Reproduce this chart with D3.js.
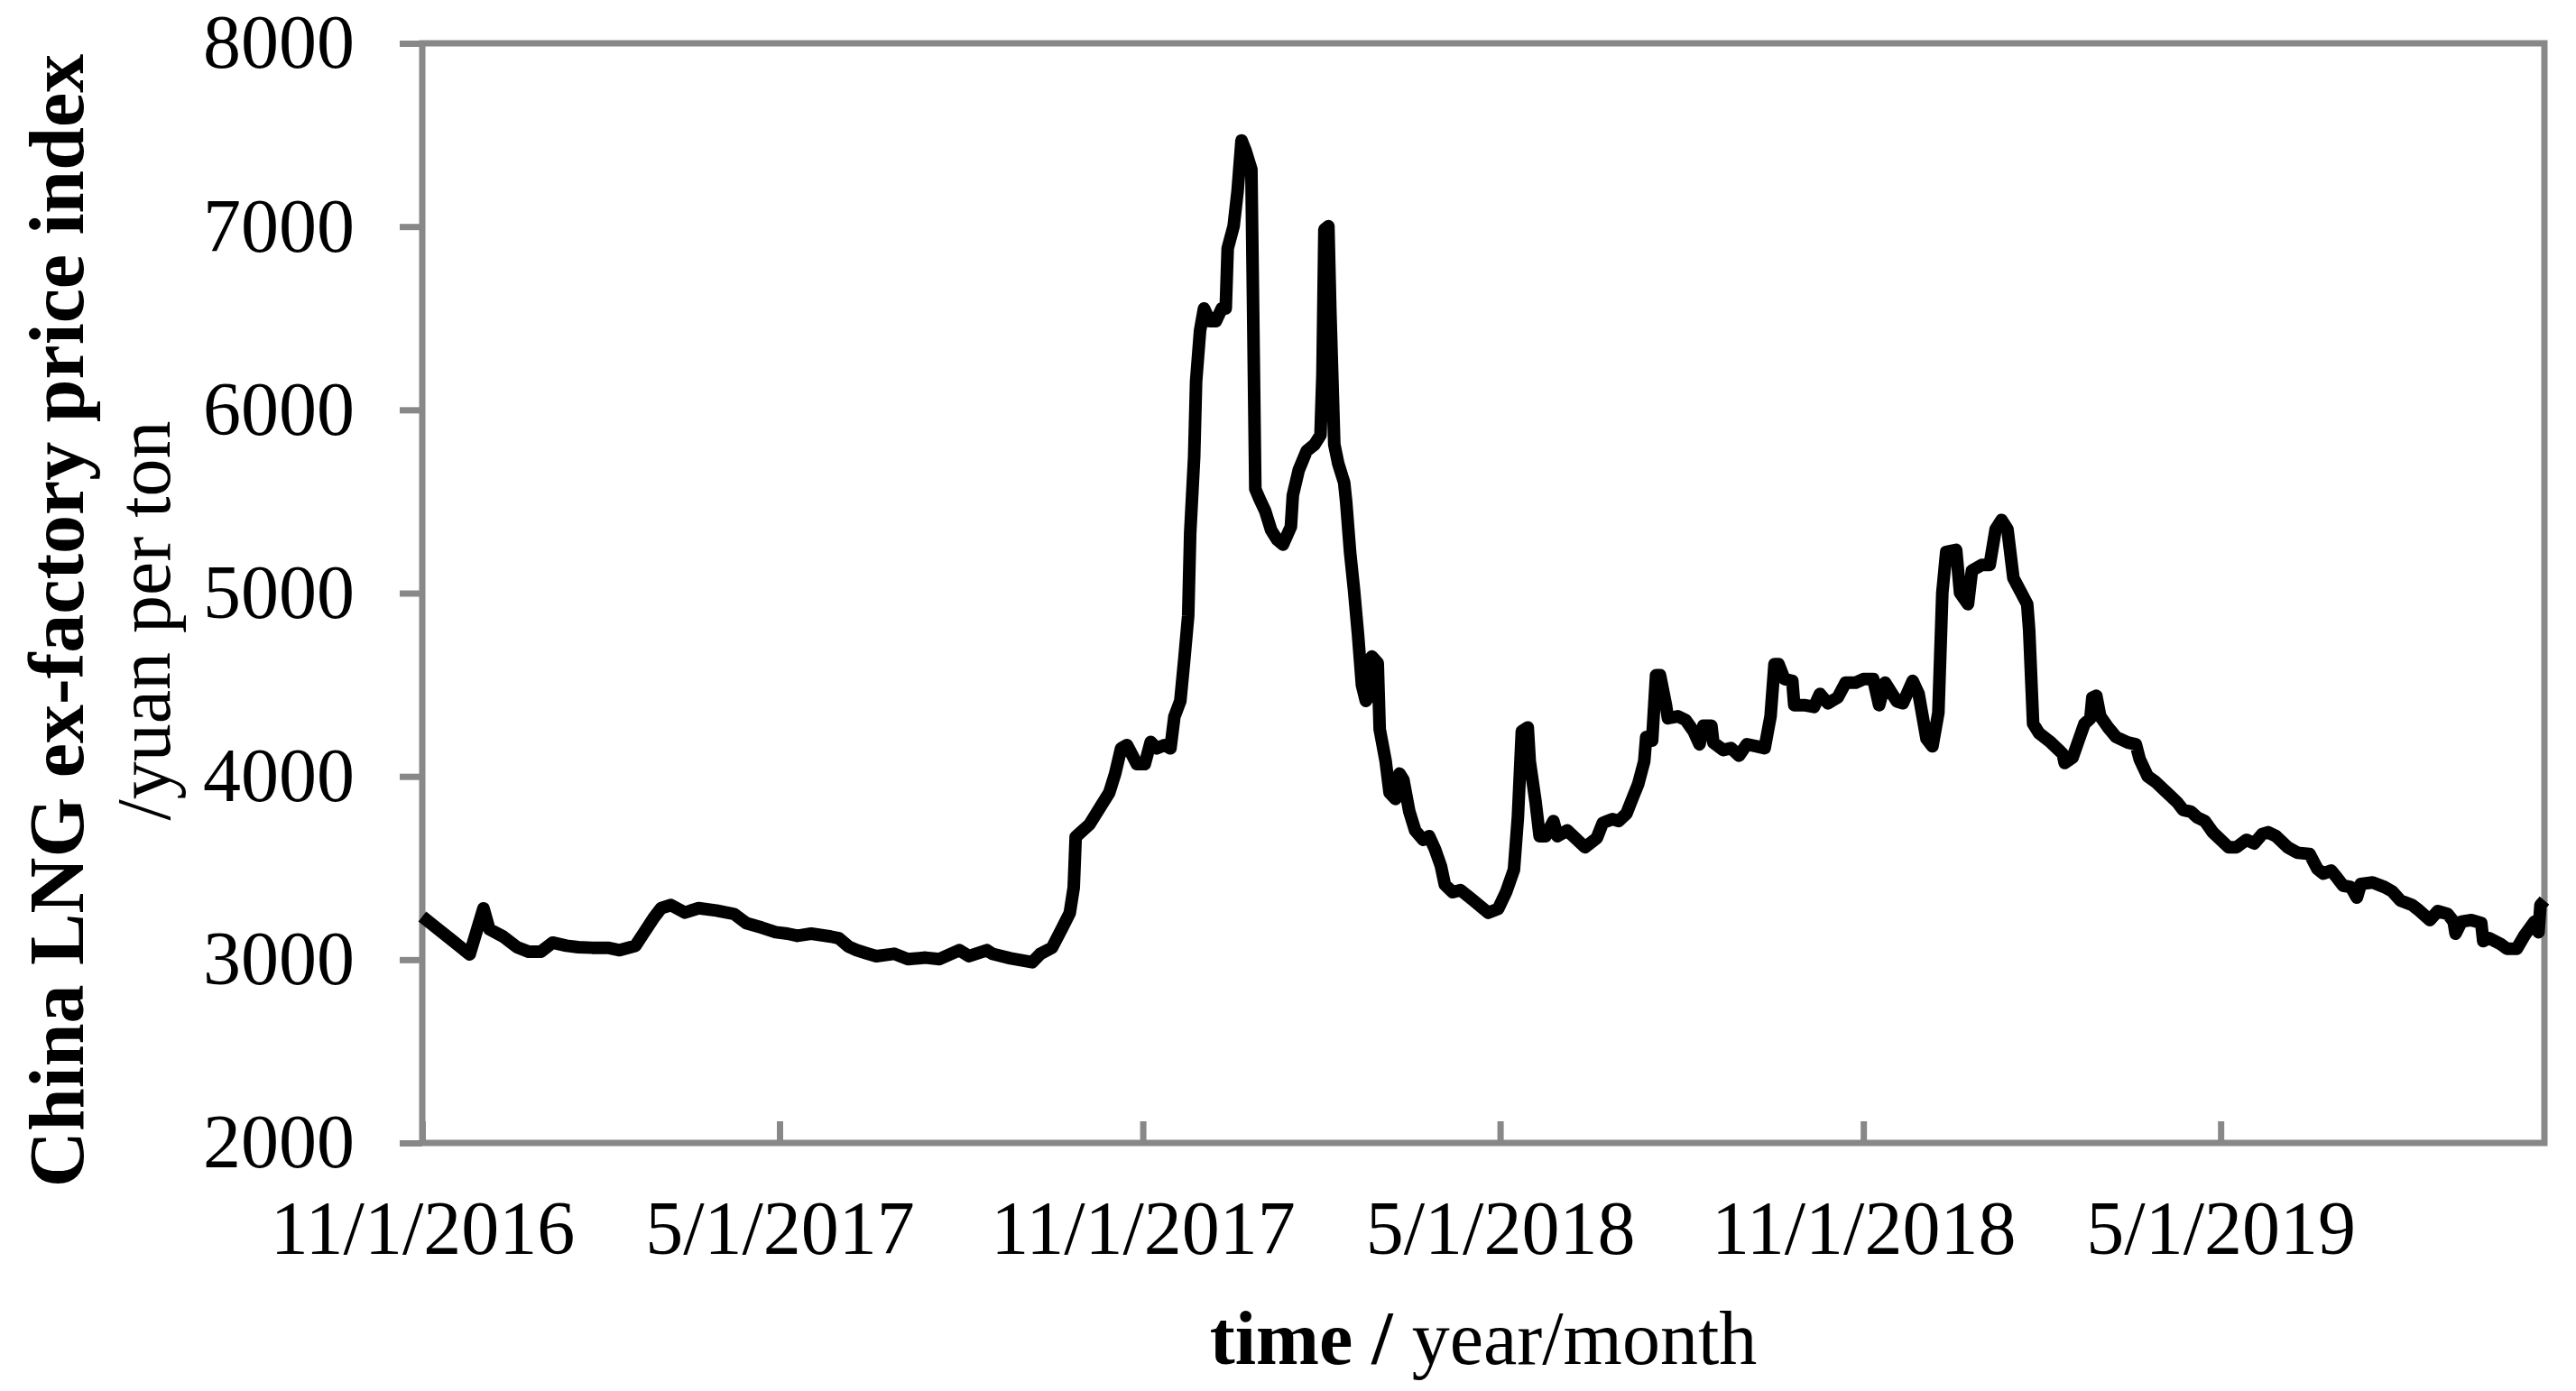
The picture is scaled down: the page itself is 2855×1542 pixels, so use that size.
<!DOCTYPE html>
<html>
<head>
<meta charset="utf-8">
<script src="https://cdn.jsdelivr.net/npm/d3@7"></script>
<style>
  html, body { margin: 0; padding: 0; background: #fff; }
  svg { display: block; }
  text { font-family: "Liberation Serif", "Times New Roman", serif; fill: #000; }
</style>
</head>
<body>
<svg id="chart" width="2855" height="1542"></svg>
<script>
// ---------- data ----------
const dates = [
"2016-11-01","2016-11-25","2016-12-02","2016-12-05","2016-12-12","2016-12-19","2016-12-25","2016-12-31",
"2017-01-06","2017-01-13","2017-01-19","2017-01-26","2017-02-03","2017-02-09","2017-02-17","2017-02-21","2017-02-26",
"2017-03-02","2017-03-07","2017-03-14","2017-03-21","2017-03-30","2017-04-08","2017-04-14","2017-04-22","2017-04-29",
"2017-05-05","2017-05-10","2017-05-17","2017-05-27","2017-05-31","2017-06-05","2017-06-09","2017-06-14","2017-06-19","2017-06-28",
"2017-07-05","2017-07-14","2017-07-21","2017-07-31","2017-08-05","2017-08-14","2017-08-17","2017-08-26",
"2017-09-06","2017-09-10","2017-09-16","2017-09-21","2017-09-25","2017-09-27","2017-09-28",
"2017-10-05","2017-10-11","2017-10-15","2017-10-18","2017-10-21","2017-10-24","2017-10-29",
"2017-11-02","2017-11-05","2017-11-08","2017-11-12","2017-11-15","2017-11-17","2017-11-20","2017-11-22","2017-11-24","2017-11-25","2017-11-27","2017-11-28","2017-11-30",
"2017-12-02","2017-12-05","2017-12-08","2017-12-11","2017-12-13","2017-12-14","2017-12-17","2017-12-19","2017-12-21","2017-12-23","2017-12-26","2017-12-28","2017-12-30",
"2018-01-02","2018-01-05","2018-01-08","2018-01-11","2018-01-15","2018-01-16","2018-01-19","2018-01-23","2018-01-27","2018-01-30","2018-01-31",
"2018-02-01","2018-02-03","2018-02-04","2018-02-06","2018-02-08","2018-02-11","2018-02-12","2018-02-14","2018-02-16","2018-02-18","2018-02-20","2018-02-22","2018-02-23","2018-02-25","2018-02-28",
"2018-03-01","2018-03-04","2018-03-06","2018-03-09","2018-03-11","2018-03-13","2018-03-16","2018-03-19","2018-03-23","2018-03-26","2018-03-29",
"2018-04-01","2018-04-03","2018-04-07","2018-04-11","2018-04-17","2018-04-25","2018-04-30",
"2018-05-04","2018-05-08","2018-05-10","2018-05-12","2018-05-15","2018-05-16","2018-05-19","2018-05-21","2018-05-24","2018-05-28","2018-05-30",
"2018-06-04","2018-06-08","2018-06-13","2018-06-19","2018-06-22","2018-06-27","2018-06-30",
"2018-07-04","2018-07-07","2018-07-10","2018-07-13","2018-07-14","2018-07-17","2018-07-19","2018-07-21","2018-07-24","2018-07-25","2018-07-30",
"2018-08-03","2018-08-07","2018-08-10","2018-08-12","2018-08-16","2018-08-17","2018-08-22","2018-08-26","2018-08-30",
"2018-09-03","2018-09-08","2018-09-12","2018-09-15","2018-09-17","2018-09-19","2018-09-22","2018-09-26","2018-09-27",
"2018-10-02","2018-10-07","2018-10-10","2018-10-14","2018-10-19","2018-10-23","2018-10-28",
"2018-11-01","2018-11-06","2018-11-09","2018-11-12","2018-11-18","2018-11-21","2018-11-26","2018-11-29",
"2018-12-03","2018-12-06","2018-12-09","2018-12-11","2018-12-13","2018-12-18","2018-12-20","2018-12-24","2018-12-26","2018-12-31",
"2019-01-04","2019-01-07","2019-01-10","2019-01-13","2019-01-16","2019-01-20","2019-01-23","2019-01-24","2019-01-26","2019-01-29",
"2019-02-04","2019-02-10","2019-02-11","2019-02-15","2019-02-18","2019-02-21","2019-02-24","2019-02-25","2019-02-27",
"2019-03-01","2019-03-05","2019-03-09","2019-03-15","2019-03-19","2019-03-21","2019-03-25","2019-03-29",
"2019-04-04","2019-04-09","2019-04-12","2019-04-16","2019-04-19","2019-04-23","2019-04-27",
"2019-05-05","2019-05-09","2019-05-14","2019-05-18","2019-05-22","2019-05-25","2019-05-29",
"2019-06-04","2019-06-09","2019-06-15","2019-06-19","2019-06-22","2019-06-26","2019-06-29",
"2019-07-02","2019-07-06","2019-07-09","2019-07-11","2019-07-17","2019-07-23","2019-07-27","2019-07-31",
"2019-08-06","2019-08-09","2019-08-15","2019-08-19","2019-08-24","2019-08-27","2019-08-28","2019-08-31",
"2019-09-05","2019-09-10","2019-09-11","2019-09-14","2019-09-20","2019-09-23","2019-09-28",
"2019-10-02","2019-10-07","2019-10-09","2019-10-10","2019-10-12"
];
const prices = [
3235,3029,3280,3166,3126,3068,3043,3043,
3093,3076,3068,3065,3065,3052,3076,3142,3224,
3281,3298,3257,3281,3268,3249,3200,3175,3150,
3142,3130,3142,3126,3117,3071,3052,3035,3019,3032,
3003,3011,3003,3052,3019,3052,3031,3007,
2986,3031,3065,3169,3255,3393,3670,
3738,3842,3911,4015,4153,4171,4067,
4067,4188,4153,4171,4153,4326,4412,4636,4878,5327,5741,6156,6432,
6553,6484,6484,6553,6553,6881,7002,7192,7470,7416,7312,5568,5517,
5448,5344,5292,5265,5362,5534,5672,5776,5811,5862,6190,
6984,7002,6536,5811,5707,5603,5500,5223,5016,4775,4498,4412,4429,4654,4619,
4257,4084,3911,3877,4015,3981,3808,3704,3654,3674,3603,
3511,3409,3368,3379,3327,3256,3277,
3368,3491,3777,4246,4267,4082,3858,3674,3674,3756,3674,
3705,3664,3613,3664,3746,3767,3756,
3797,3879,3960,4082,4215,4195,4552,4552,4389,4317,4328,
4307,4246,4175,4277,4277,4185,4144,4154,4113,
4175,4164,4154,4328,4613,4613,4531,4521,4389,
4389,4379,4450,4399,4430,4511,4511,
4531,4531,4389,4511,4409,4399,4521,4450,
4205,4164,4348,5001,5225,5236,5001,4940,5123,5154,
5154,5348,5399,5348,5083,5001,4940,4797,4287,4236,
4185,4123,4073,4103,4195,4287,4317,4430,4440,
4328,4267,4215,4185,4175,4093,4001,3970,
3909,3858,3817,3807,3777,3756,3695,
3613,3613,3654,3634,3685,3695,3674,
3613,3583,3577,3495,3470,3486,3446,
3404,3396,3339,3413,3421,3396,3372,3323,
3298,3273,3216,3265,3249,3208,3142,3208,
3216,3200,3101,3117,3084,3060,3060,
3134,3208,3150,3298,3323
];
const xDomain = ["2016-11-01", "2019-10-12"];
const xTickDates = ["2016-11-01","2017-05-01","2017-11-01","2018-05-01","2018-11-01","2019-05-01"];
const xTickLabels = ["11/1/2016","5/1/2017","11/1/2017","5/1/2018","11/1/2018","5/1/2019"];
const yTicks = [2000,3000,4000,5000,6000,7000,8000];
const yDomain = [2000, 8000];
const yTitleBold = "China LNG ex-factory price index";
const yTitleUnit = "/yuan per ton";
const xTitleBold = "time /";
const xTitleRest = " year/month";

// ---------- layout ----------
const parse = d3.timeParse("%Y-%m-%d");
const L = 468, R = 2820, T = 48, B = 1267;
const axisColor = "#888888";
const fontSize = 84;

const svg = d3.select("#chart");
const x = d3.scaleTime().domain(xDomain.map(parse)).range([L, R]);
const y = d3.scaleLinear().domain(yDomain).range([B, T]);

const data = dates.map((d, i) => ({ date: parse(d), value: prices[i] }));

// frame (plot border)
svg.append("rect")
  .attr("x", L).attr("y", T)
  .attr("width", R - L).attr("height", B - T)
  .attr("fill", "none")
  .attr("stroke", axisColor)
  .attr("stroke-width", 7);

// y axis
const yAxis = svg.append("g")
  .attr("transform", `translate(${L},0)`)
  .call(d3.axisLeft(y).tickValues(yTicks).tickSize(25).tickPadding(50).tickFormat(d3.format("d")));
yAxis.select(".domain").remove();
yAxis.selectAll(".tick line").attr("stroke", axisColor).attr("stroke-width", 7);
yAxis.selectAll(".tick text")
  .attr("font-size", fontSize)
  .attr("font-family", '"Liberation Serif", "Times New Roman", serif')
  .attr("fill", "#000");

// x axis (ticks point inward)
const xAxis = svg.append("g")
  .attr("transform", `translate(0,${B})`)
  .call(d3.axisBottom(x).tickValues(xTickDates.map(parse)).tickSizeInner(-24).tickSizeOuter(0)
        .tickFormat((d, i) => xTickLabels[i]));
xAxis.select(".domain").remove();
xAxis.selectAll(".tick line").attr("stroke", axisColor).attr("stroke-width", 7);
xAxis.selectAll(".tick text")
  .attr("y", 123).attr("dy", 0)
  .attr("font-size", fontSize)
  .attr("font-family", '"Liberation Serif", "Times New Roman", serif')
  .attr("fill", "#000");

// price line
const line = d3.line().x(d => x(d.date)).y(d => y(d.value));
svg.append("path")
  .datum(data)
  .attr("d", line)
  .attr("fill", "none")
  .attr("stroke", "#000")
  .attr("stroke-width", 14)
  .attr("stroke-linejoin", "round")
  .attr("stroke-linecap", "butt");

// y title
const yTitleCenter = 688;
svg.append("text")
  .attr("transform", `translate(92,${yTitleCenter}) rotate(-90)`)
  .attr("text-anchor", "middle")
  .attr("font-size", 86)
  .attr("font-weight", "bold")
  .text(yTitleBold);
svg.append("text")
  .attr("transform", `translate(188,${yTitleCenter}) rotate(-90)`)
  .attr("text-anchor", "middle")
  .attr("font-size", 84)
  .text(yTitleUnit);

// x title
const xt = svg.append("text")
  .attr("x", (L + R) / 2)
  .attr("y", 1512)
  .attr("text-anchor", "middle")
  .attr("font-size", 84);
xt.append("tspan").attr("font-weight", "bold").text(xTitleBold);
xt.append("tspan").text(xTitleRest);
</script>
</body>
</html>
